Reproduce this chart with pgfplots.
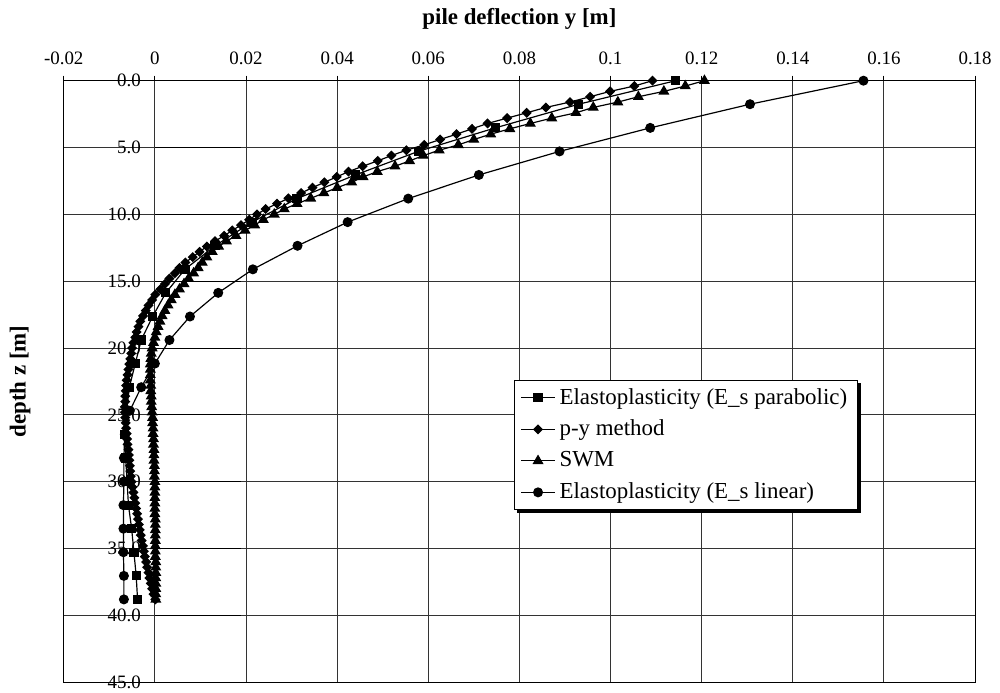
\documentclass[border=0pt]{standalone}
\usepackage{fontspec}
\setmainfont{Liberation Serif}
\usepackage{pgfplots}
\usepackage{pgfplotstable}
\pgfplotsset{compat=1.18}

% dense series: p-y method (py) and SWM (swm), depth z in m
\pgfplotstableread{
z py swm
0.0 0.1092 0.1206
0.4 0.1052 0.1164
0.8 0.0999 0.1117
1.2 0.0955 0.1061
1.6 0.0911 0.1016
2.0 0.0858 0.0962
2.4 0.0816 0.0924
2.8 0.0773 0.0871
3.2 0.0730 0.0824
3.6 0.0696 0.0779
4.0 0.0662 0.0737
4.4 0.0626 0.0700
4.8 0.0591 0.0666
5.2 0.0552 0.0624
5.6 0.0519 0.0589
6.0 0.0489 0.0559
6.4 0.0456 0.0527
6.8 0.0425 0.0488
7.2 0.0399 0.0457
7.6 0.0372 0.0432
8.0 0.0346 0.0400
8.4 0.0321 0.0371
8.8 0.0293 0.0342
9.2 0.0268 0.0312
9.6 0.0243 0.0284
10.0 0.0224 0.0262
10.4 0.0207 0.0238
10.8 0.0189 0.0219
11.2 0.0170 0.0198
11.6 0.0152 0.0178
12.0 0.0132 0.0157
12.4 0.0114 0.0140
12.8 0.0098 0.0126
13.2 0.0083 0.0114
13.6 0.0067 0.0104
14.0 0.0054 0.0095
14.4 0.0044 0.0085
14.8 0.0032 0.0074
15.2 0.0022 0.0064
15.6 0.0012 0.0054
16.0 0.0001 0.0044
16.4 -0.0006 0.0036
16.8 -0.0014 0.0029
17.2 -0.0020 0.0022
17.6 -0.0026 0.0016
18.0 -0.0032 0.0011
18.4 -0.0036 0.0007
18.8 -0.0040 0.0003
19.2 -0.0043 0.0000
19.6 -0.0047 -0.0003
20.0 -0.0050 -0.0006
20.4 -0.0052 -0.0008
20.8 -0.0054 -0.0009
21.2 -0.0056 -0.0010
21.6 -0.0058 -0.0010
22.0 -0.0060 -0.0010
22.4 -0.0062 -0.0010
22.8 -0.0063 -0.0009
23.2 -0.0064 -0.0009
23.6 -0.0065 -0.0008
24.0 -0.0065 -0.0008
24.4 -0.0066 -0.0007
24.8 -0.0066 -0.0006
25.2 -0.0065 -0.0005
25.6 -0.0064 -0.0005
26.0 -0.0063 -0.0004
26.4 -0.0062 -0.0004
26.8 -0.0061 -0.0003
27.2 -0.0060 -0.0003
27.6 -0.0058 -0.0002
28.0 -0.0057 -0.0002
28.4 -0.0056 -0.0002
28.8 -0.0055 -0.0001
29.2 -0.0054 -0.0001
29.6 -0.0053 -0.0001
30.0 -0.0051 0.0000
30.4 -0.0049 0.0000
30.8 -0.0047 0.0000
31.2 -0.0045 0.0000
31.6 -0.0043 0.0000
32.0 -0.0041 0.0000
32.4 -0.0039 0.0000
32.8 -0.0037 0.0001
33.2 -0.0035 0.0001
33.6 -0.0033 0.0001
34.0 -0.0031 0.0001
34.4 -0.0029 0.0001
34.8 -0.0026 0.0001
35.2 -0.0024 0.0001
35.6 -0.0022 0.0001
36.0 -0.0019 0.0002
36.4 -0.0017 0.0002
36.8 -0.0014 0.0002
37.2 -0.0012 0.0002
37.6 -0.0009 0.0002
38.0 -0.0006 0.0002
38.4 -0.0003 0.0002
38.8 0.0001 0.0002
}\dense

% coarse series: elastoplasticity, E_s parabolic (par) and E_s linear (lin)
\pgfplotstableread{
z par lin
0.00 0.1143 0.1555
1.76 0.0930 0.1306
3.53 0.0747 0.1087
5.29 0.0578 0.0888
7.05 0.0440 0.0711
8.82 0.0312 0.0556
10.58 0.0213 0.0423
12.35 0.0132 0.0313
14.11 0.0066 0.0215
15.87 0.0024 0.0139
17.64 -0.0005 0.0077
19.40 -0.0030 0.0032
21.16 -0.0043 0.0000
22.93 -0.0056 -0.0030
24.69 -0.0062 -0.0055
26.45 -0.0067 -0.0066
28.22 -0.0064 -0.0068
29.98 -0.0061 -0.0068
31.75 -0.0058 -0.0069
33.51 -0.0051 -0.0069
35.27 -0.0046 -0.0069
37.04 -0.0041 -0.0068
38.80 -0.0038 -0.0068
}\coarse

\begin{document}
\begin{tikzpicture}
\begin{axis}[
  scale only axis,
  width=457.5pt, height=302pt,
  xmin=-0.02, xmax=0.18,
  ymin=0, ymax=45,
  y dir=reverse,
  clip=false,
  font=\fontsize{9.5}{11}\selectfont,
  xtick={-0.02,0,0.02,0.04,0.06,0.08,0.1,0.12,0.14,0.16,0.18},
  xticklabels={-0.02,0,0.02,0.04,0.06,0.08,0.1,0.12,0.14,0.16,0.18},
  xtick pos=right, xticklabel pos=right,
  ytick={0,5,10,15,20,25,30,35,40,45},
  yticklabels={0.0,5.0,10.0,15.0,20.0,25.0,30.0,35.0,40.0,45.0},
  ytick pos=left,
  ytick style={draw=none},
  yticklabel style={anchor=east, xshift=44.7pt},
  xticklabel style={yshift=2pt},
  tick align=outside,
  major tick length=2.5pt,
  tick style={black, line width=0.5pt},
  grid=major,
  grid style={black!80, line width=0.5pt},
  axis line style={black, line width=0.5pt},
  xlabel={\bfseries pile deflection y [m]},
  xlabel style={at={(axis description cs:0.5,1)}, anchor=base, yshift=28pt, font=\fontsize{11.5}{13}\selectfont},
  ylabel={\bfseries depth z [m]},
  ylabel style={at={(axis description cs:-0.048,0.5)}, anchor=center, font=\fontsize{11.5}{13}\selectfont},
  legend style={at={(axis description cs:0.494,0.503)}, anchor=north west,
    name=leg,
    draw=black, fill=white, line width=0.5pt,
    font=\fontsize{11.5}{13}\selectfont,
    row sep=2.5pt},
  legend cell align=left,
]
\coordinate (sw) at (axis description cs:0,0);
\coordinate (ne) at (axis description cs:1,1);
\pgfplotsinvokeforeach{0,5,10,15,20,25,30,35,40,45}{
  \draw[black, line width=0.5pt] (axis cs:0,#1) -- ++(-2.5pt,0);
}
\addplot[black, line width=0.6pt, mark=square*, mark size=2pt]
  table[x=par, y=z] {\coarse};
\addlegendentry{Elastoplasticity (E\_s parabolic)}
\addplot[black, line width=0.6pt, mark=diamond*, mark size=2.1pt, mark options={xscale=1.33}]
  table[x=py, y=z] {\dense};
\addlegendentry{p-y method}
\addplot[black, line width=0.6pt, mark=triangle*, mark size=2.6pt]
  table[x=swm, y=z] {\dense};
\addlegendentry{SWM}
\addplot[black, line width=0.6pt, mark=*, mark size=2.2pt]
  table[x=lin, y=z] {\coarse};
\addlegendentry{Elastoplasticity (E\_s linear)}
\end{axis}
% legend shadow, bottom and right strips
\fill[black] ([xshift=1.6pt]leg.south west) rectangle ([shift={(1.6pt,-1.6pt)}]leg.south east);
\fill[black] ([yshift=-1.6pt]leg.north east) rectangle ([xshift=1.6pt]leg.south east);
\pgfresetboundingbox
\path ([shift={(-32pt,-5pt)}]sw) rectangle ([shift={(12.5pt,40.5pt)}]ne);
\end{tikzpicture}
\end{document}
